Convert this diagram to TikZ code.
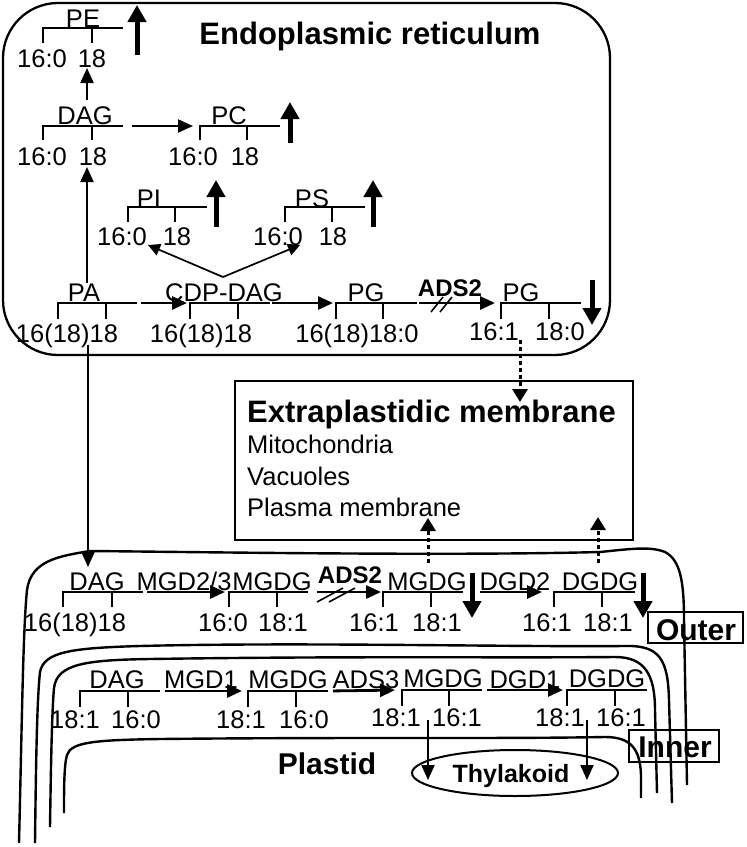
\documentclass[tikz,border=0pt]{standalone}
\usepackage{fontspec}
\setmainfont{Liberation Sans}
\usetikzlibrary{arrows.meta}
\newcommand\brk[6]{%
  \coordinate (#1-l) at (#2,#5);
  \coordinate (#1-r) at (#4,#5);
  \draw[brkl] (#2,#5+#6) -- (#1-l) -- (#1-r) (#3,#5) -- (#3,#5+#6);}
\begin{document}
\begin{tikzpicture}[x=1pt,y=-1pt,
  lbl/.style={font=\fontsize{25.5}{30}\selectfont, inner sep=0pt, text height=18pt, text depth=0pt},
  blbl/.style={font=\bfseries\fontsize{24}{28}\selectfont, inner sep=0pt, text height=17pt, text depth=0pt},
  big/.style={font=\bfseries\fontsize{31}{36}\selectfont, inner sep=0pt},
  bigb/.style={font=\bfseries\fontsize{30}{34}\selectfont, inner sep=0pt, text height=22pt, text depth=0pt},
  plain/.style={font=\fontsize{25.5}{30}\selectfont, inner sep=0pt, anchor=base west},
  brkl/.style={line width=1.7pt},
  arr/.style={line width=2.8pt, -{Triangle[length=15pt,width=13pt]}},
  arrt/.style={line width=2pt, -{Triangle[length=15pt,width=13pt]}},
  varr/.style={line width=1.7pt, -{Triangle[length=12pt,width=12pt]}},
  barr/.style={line width=5pt, -{Triangle[length=17pt,width=18pt]}},
  darr/.style={line width=3pt, dash pattern=on 4pt off 3pt, -{Triangle[length=13pt,width=15pt]}},
  memb/.style={line width=2.4pt},
  slash/.style={line width=1.6pt}]
\useasboundingbox (0,0) rectangle (747,847);

% ---------------- Endoplasmic reticulum ----------------
\draw[line width=2.3pt, rounded corners=55pt] (3,3) rectangle (610,355);
\node[big, anchor=base] (ertitle) at (370,44) {Endoplasmic reticulum};

% PE
\brk{pe}{43}{92}{123}{28}{15}
\node[lbl] (pe) at (83,18) {PE};
\node[lbl] (pe-a) at (42,58) {16:0};
\node[lbl] (pe-b) at (92,58) {18};
\coordinate (peup-s) at (137,55); \coordinate (peup-e) at (137,5);
\draw[barr] (peup-s) -- (peup-e);

% DAG (ER)
\brk{dager}{43}{92}{123}{126}{14}
\node[lbl] (dager) at (85,115) {DAG};
\node[lbl] (dager-a) at (42,156) {16:0};
\node[lbl] (dager-b) at (93,156) {18};

% PC
\brk{pc}{200}{247}{280}{126}{14}
\node[lbl] (pc) at (229,115) {PC};
\node[lbl] (pc-a) at (193,156) {16:0};
\node[lbl] (pc-b) at (245,156) {18};
\coordinate (pcup-s) at (290,143); \coordinate (pcup-e) at (290,102);
\draw[barr] (pcup-s) -- (pcup-e);

% PI
\brk{pi}{128}{175}{207}{207}{15}
\node[lbl] (pi) at (149,198) {PI};
\node[lbl] (pi-a) at (122,236) {16:0};
\node[lbl] (pi-b) at (177,236) {18};
\coordinate (piup-s) at (216,227); \coordinate (piup-e) at (216,180);
\draw[barr] (piup-s) -- (piup-e);

% PS
\brk{ps}{285}{332}{365}{207}{15}
\node[lbl] (ps) at (312,198) {PS};
\node[lbl] (ps-a) at (278,236) {16:0};
\node[lbl] (ps-b) at (333,236) {18};
\coordinate (psup-s) at (373,227); \coordinate (psup-e) at (373,180);
\draw[barr] (psup-s) -- (psup-e);

% PA
\brk{pa}{58}{106}{137}{303}{16}
\node[lbl] (pa) at (84,292) {PA};
\node[lbl] (pa-a) at (67,333) {16(18)18};

% CDP-DAG
\brk{cdp}{190}{238}{270}{303}{16}
\node[lbl] (cdp) at (224,292) {CDP-DAG};
\node[lbl] (cdp-a) at (201,333) {16(18)18};

% PG
\brk{pga}{336}{383}{417}{303}{16}
\node[lbl] (pga) at (366,292) {PG};
\node[lbl] (pga-a) at (357,333) {16(18)18:0};

% PG (16:1)
\brk{pgb}{501}{549}{581}{303}{16}
\node[lbl] (pgb) at (521,292) {PG};
\node[lbl] (pgb-a) at (494,331) {16:1};
\node[lbl] (pgb-b) at (560,331) {18:0};
\coordinate (pgdn-s) at (592,280); \coordinate (pgdn-e) at (592,325);
\draw[barr] (pgdn-s) -- (pgdn-e);

\node[blbl] (ads2a) at (450,288) {ADS2};

% ER connectors
\coordinate (dag2pe-s) at (87,100); \coordinate (dag2pe-e) at (87,68);
\draw[arrt] (dag2pe-s) -- (dag2pe-e);
\draw[arrt, shorten <=9pt, shorten >=7pt] (dager-r) -- (pc-l);
\coordinate (pa2dag-s) at (87,283); \coordinate (pa2dag-e) at (87,167);
\draw[arrt] (pa2dag-s) -- (pa2dag-e);
\coordinate (vtop) at (223,277);
\coordinate (v-pi) at (148,245); \coordinate (v-ps) at (300,245);
\draw[varr] (vtop) -- (v-pi);
\draw[varr] (vtop) -- (v-ps);
\draw[arr, shorten <=4pt, shorten >=3pt] (pa-r) -- (cdp-l);
\draw[arr, shorten <=2pt, shorten >=3pt] (cdp-r) -- (pga-l);
\draw[arr, shorten <=2pt, shorten >=6pt] (pga-r) -- (pgb-l);
\draw[slash] (431,312) -- (443,297) (440,312) -- (452,297);

% ---------------- Extraplastidic membrane ----------------
\draw[line width=2.5pt] (235,381) rectangle (633,540);
\node[big, anchor=base west] (extitle) at (247,422) {Extraplastidic membrane};
\node[plain] (mito) at (247,453) {Mitochondria};
\node[plain] (vac) at (247,485) {Vacuoles};
\node[plain] (pm) at (247,516) {Plasma membrane};
\coordinate (dot1-s) at (520,340); \coordinate (dot1-e) at (520,402);
\draw[darr] (dot1-s) -- (dot1-e);

% ---------------- Plastid membranes ----------------
\draw[memb] (19,843) .. controls (22,720) and (23,630) .. (27,590)
  .. controls (31,560) and (60,556) .. (90,551)
  .. controls (200,552) and (450,556) .. (600,552)
  .. controls (630,549) and (650,546) .. (665,552)
  .. controls (680,560) and (684,580) .. (684,620) -- (687,785);
\draw[memb] (35,843) .. controls (36,760) and (37,700) .. (40,672)
  .. controls (44,652) and (70,648) .. (140,646)
  .. controls (300,642) and (500,647) .. (625,646)
  .. controls (660,645) and (668,660) .. (669,700) -- (672,803);
\draw[memb] (50,827) .. controls (51,760) and (52,710) .. (54,688)
  .. controls (57,664) and (85,660) .. (150,659)
  .. controls (350,656) and (500,658) .. (615,657)
  .. controls (645,657) and (655,675) .. (655,710) -- (657,793);
\draw[memb] (64,813) .. controls (64,790) and (64,765) .. (67,755)
  .. controls (71,742) and (95,740) .. (160,739)
  .. controls (350,737) and (500,739) .. (605,737)
  .. controls (632,737) and (640,750) .. (641,775) -- (641,798);

\draw[line width=1.8pt] (648,612) rectangle (743,643);
\node[bigb] (outer) at (696,629) {Outer};
\draw[line width=1.8pt] (629,730) rectangle (719,762);
\node[bigb] (inner) at (675,746) {Inner};
\node[bigb] (plastid) at (327,763) {Plastid};

% PA -> plastid DAG
\coordinate (pa2p-s) at (88,345); \coordinate (pa2p-e) at (88,567);
\draw[arrt] (pa2p-s) -- (pa2p-e);

% ---------------- Outer envelope row ----------------
\brk{dago}{63}{112}{143}{592}{15}
\node[lbl] (dago) at (97,581) {DAG};
\node[lbl] (dago-a) at (75,622) {16(18)18};
\node[lbl] (mgd23) at (184,581) {MGD2/3};

\brk{mgo1}{229}{277}{308}{592}{15}
\node[lbl] (mgo1) at (272,581) {MGDG};
\node[lbl] (mgo1-a) at (223,622) {16:0};
\node[lbl] (mgo1-b) at (283,622) {18:1};

\node[blbl] (ads2b) at (350,575) {ADS2};

\brk{mgo2}{383}{431}{463}{592}{15}
\node[lbl] (mgo2) at (427,581) {MGDG};
\node[lbl] (mgo2-a) at (374,622) {16:1};
\node[lbl] (mgo2-b) at (437,622) {18:1};
\coordinate (mgdn-s) at (472,573); \coordinate (mgdn-e) at (472,618);
\draw[barr] (mgdn-s) -- (mgdn-e);

\node[lbl] (dgd2) at (515,581) {DGD2};

\brk{dgo}{554}{602}{635}{592}{15}
\node[lbl] (dgo) at (600,581) {DGDG};
\node[lbl] (dgo-a) at (547,622) {16:1};
\node[lbl] (dgo-b) at (608,622) {18:1};
\coordinate (dgdn-s) at (643,573); \coordinate (dgdn-e) at (643,618);
\draw[barr] (dgdn-s) -- (dgdn-e);

\draw[arr, shorten <=4pt, shorten >=4pt] (dago-r) -- (mgo1-l);
\draw[arr, shorten <=9pt, shorten >=2pt] (mgo1-r) -- (mgo2-l);
\draw[slash] (317,602) -- (343,588) (329,602) -- (355,588);
\draw[arr, shorten <=17pt, shorten >=12pt] (mgo2-r) -- (dgo-l);

\coordinate (dot2-s) at (428,563); \coordinate (dot2-e) at (428,518);
\draw[darr] (dot2-s) -- (dot2-e);
\coordinate (dot3-s) at (598,563); \coordinate (dot3-e) at (598,517);
\draw[darr] (dot3-s) -- (dot3-e);

% ---------------- Inner envelope row ----------------
\brk{dagi}{80}{128}{160}{691}{16}
\node[lbl] (dagi) at (117,679) {DAG};
\node[lbl] (dagi-a) at (75,719) {18:1};
\node[lbl] (dagi-b) at (136,719) {16:0};
\node[lbl] (mgd1) at (201,679) {MGD1};

\brk{mgi1}{248}{296}{328}{691}{16}
\node[lbl] (mgi1) at (288,679) {MGDG};
\node[lbl] (mgi1-a) at (241,719) {18:1};
\node[lbl] (mgi1-b) at (304,719) {16:0};
\node[lbl] (ads3) at (366,679) {ADS3};

\brk{mgi2}{402}{449}{482}{690}{16}
\node[lbl] (mgi2) at (443,678) {MGDG};
\node[lbl] (mgi2-a) at (396,717) {18:1};
\node[lbl] (mgi2-b) at (457,717) {16:1};
\node[lbl] (dgd1) at (525,679) {DGD1};

\brk{dgi}{567}{615}{647}{690}{16}
\node[lbl] (dgi) at (607,678) {DGDG};
\node[lbl] (dgi-a) at (560,717) {18:1};
\node[lbl] (dgi-b) at (621,717) {16:1};

\draw[arr, shorten <=5pt, shorten >=6pt] (dagi-r) -- (mgi1-l);
\draw[arr, shorten <=5pt, shorten >=7pt] (mgi1-r) -- (mgi2-l);
\draw[arr, shorten <=5pt, shorten >=4pt] (mgi2-r) -- (dgi-l);

% Thylakoid
\draw[line width=2pt] (515,773) ellipse [x radius=103pt, y radius=23pt];
\node[blbl, font=\bfseries\fontsize{25}{30}\selectfont] (thy) at (511,774) {Thylakoid};
\coordinate (th1-s) at (428,720); \coordinate (th1-e) at (428,780);
\draw[arrt] (th1-s) -- (th1-e);
\coordinate (th2-s) at (587,720); \coordinate (th2-e) at (587,780);
\draw[arrt] (th2-s) -- (th2-e);
\end{tikzpicture}
\end{document}
